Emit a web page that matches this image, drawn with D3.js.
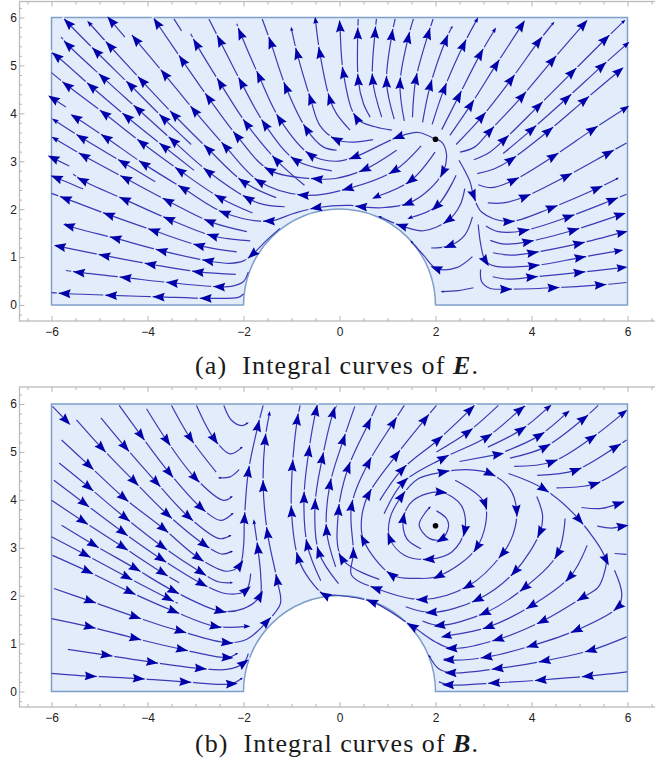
<!DOCTYPE html>
<html>
<head>
<meta charset="utf-8">
<script src="https://cdnjs.cloudflare.com/ajax/libs/d3/7.8.5/d3.min.js"></script>
<style>
html,body{margin:0;padding:0;background:#fff;overflow:hidden}
svg{display:block}
.axis text{font-family:"Liberation Sans",Arial,sans-serif;font-size:12px;fill:#222}
.axis line{stroke:#b4b4b4;stroke-width:1}
.axis .domain{display:none}
.cap{font-family:"Liberation Serif",serif;font-size:26px;fill:#1a1a1a;white-space:pre}
</style>
</head>
<body>
<svg id="c" width="655" height="764"></svg>
<script>
// Streamlines, in plot coordinates, listed from tail to head.
// A vertex carries an arrowhead, except: third value 0 = curve point only;
// the final vertex has one only if its third value is 1.
const eCurves = [
[[-1.93,1.53],[-2.70,1.74],[-3.57,2.17],[-4.45,2.64],[-5.32,3.11],[-5.93,3.47,1]],
[[-1.86,1.34],[-2.21,1.37,0],[-2.64,1.44],[-3.55,1.79],[-4.47,2.20],[-5.35,2.60],[-5.55,2.73]],
[[-2.14,1.11],[-2.92,1.24],[-3.86,1.55],[-4.80,1.88],[-5.70,2.22],[-6.0,2.33]],
[[-1.24,1.60],[-1.52,1.35,0],[-1.81,1.06],[-2.00,.92,0],[-2.28,.87,0],[-2.73,.92],[-3.70,1.13],[-4.66,1.39],[-5.63,1.65],[-5.72,1.70]],
[[-2.16,.64],[-2.94,.69],[-3.93,.85],[-4.89,1.03],[-5.82,1.22],[-5.91,1.24]],
[[-1.90,.69],[-2.00,.49,0],[-2.21,.40,0],[-2.50,.38],[-3.48,.46],[-4.45,.57],[-5.42,.68],[-5.70,.72]],
[[-2.0,.23],[-2.11,.16,0],[-2.78,.14],[-3.76,.17],[-4.75,.20],[-5.72,.24],[-6.0,.26]],
[[-5.34,2.42],[-5.89,2.65],[-6.0,2.69]],
[[-3.84,2.57],[-4.50,2.97],[-5.37,3.49],[-5.93,3.85,1]],
[[-5.63,2.90],[-5.96,3.06,1]],
[[-3.03,2.81],[-3.65,3.30],[-4.42,3.92],[-5.16,4.55],[-5.89,5.19],[-6.0,5.26]],
[[-3.09,3.35],[-3.66,3.89],[-4.35,4.58],[-5.06,5.28],[-5.65,5.88],[-5.73,5.97]],
[[-5.70,4.13],[-5.96,4.30,1]],
[[-1.14,2.05],[-1.59,2.10,0],[-1.90,2.22],[-2.73,2.78],[-3.46,3.42],[-4.19,4.08],[-4.92,4.74],[-5.65,5.42],[-5.80,5.59]],
[[-1.81,1.92],[-2.49,2.24],[-3.32,2.80],[-4.11,3.38],[-4.89,3.99],[-5.67,4.58],[-6.0,4.85]],
[[-1.32,2.24],[-2.00,2.57],[-2.73,3.25],[-3.44,3.96],[-4.11,4.67],[-4.78,5.40],[-5.21,5.88,1]],
[[1.70,3.32],[1.14,2.80],[.18,2.43],[-.75,2.29],[-1.66,2.57],[-2.37,3.30],[-3.02,4.05],[-3.64,4.81],[-4.24,5.53],[-4.33,5.64]],
[[-4.47,5.59],[-4.75,5.92,1]],
[[1.19,3.23],[.53,2.83],[-.09,2.64,0],[-.46,2.63],[-1.45,2.81],[-2.13,3.52],[-2.72,4.31],[-3.27,5.10],[-3.80,5.88],[-3.86,5.97]],
[[-.73,2.50],[-1.31,3.02],[-1.93,3.77],[-2.48,4.62],[-2.98,5.44],[-3.10,5.66]],
[[-3.29,5.72],[-3.45,5.97]],
[[-.16,2.80],[-.91,3.02],[-1.55,3.76],[-2.04,4.63],[-2.49,5.51],[-2.72,5.97]],
[[1.99,3.46],[1.64,3.60,0],[1.23,3.51],[.32,3.09],[-.09,3.0,0],[-.60,3.13],[-1.24,3.87],[-1.67,4.76],[-2.06,5.66],[-2.14,5.87]],
[[1.99,3.46],[2.13,3.40,0],[2.23,3.13,0],[2.16,2.78],[1.87,2.41,0],[1.43,2.12],[.88,2.03,0],[.46,2.05],[.22,2.08,0],[-.48,2.03],[-.96,1.91,0],[-1.46,1.75],[-2.39,1.92],[-3.25,2.43],[-4.07,2.94],[-4.86,3.49],[-5.49,3.91],[-5.58,3.96]],
[[.70,3.45],[.29,3.40,0],[-.06,3.45],[-.41,3.75,0],[-.60,4.29],[-.88,5.24],[-1.0,5.76,1]],
[[-.06,3.23],[-.34,3.30,0],[-.68,3.66],[-1.11,4.53],[-1.43,5.47],[-1.61,5.97]],
[[1.09,3.65],[.74,3.72,0],[.36,3.89],[.08,4.84],[.01,5.81],[.00,5.94]],
[[.22,3.65],[-.06,3.99,0],[-.20,4.29],[-.41,5.26],[-.50,5.94,1]],
[[.64,3.92],[.50,4.20,0],[.39,4.69],[.38,5.66],[.39,5.97]],
[[.88,3.92],[.69,4.70],[.74,5.68],[.77,5.97]],
[[1.14,3.88],[.98,4.65],[1.09,5.63],[1.16,5.97]],
[[1.35,3.84],[1.26,4.62],[1.43,5.57],[1.54,5.97]],
[[1.52,3.92],[1.59,4.71],[1.85,5.66],[1.95,5.97]],
[[1.73,3.81],[1.89,4.58],[2.21,5.52],[2.34,5.80,1]],
[[1.93,3.77],[2.18,4.51],[2.58,5.42],[2.86,5.95,1]],
[[2.13,3.66],[2.48,4.35],[2.93,5.23],[3.23,5.74,1]],
[[2.30,3.54],[2.73,4.17],[3.26,5.01],[3.79,5.83,1]],
[[2.43,3.35],[2.96,3.92],[3.57,4.70],[4.14,5.49],[4.45,5.88,1]],
[[2.51,3.19],[2.82,3.30,0],[3.13,3.63],[3.80,4.35],[4.43,5.10],[5.08,5.85,1]],
[[2.80,3.03],[3.13,3.19,0],[3.43,3.45],[4.14,4.15],[4.84,4.85],[5.53,5.54],[5.92,5.92,1]],
[[3.41,3.16],[4.0,3.66],[4.73,4.31],[5.46,4.98],[5.98,5.44,1]],
[[2.87,2.74],[3.24,2.85,0],[3.57,3.03],[4.35,3.63],[5.10,4.27],[5.82,4.88,1]],
[[2.89,2.51],[3.17,2.45,0],[3.62,2.60],[4.45,3.10],[5.27,3.66],[5.95,4.10,1]],
[[3.09,2.13],[3.41,2.13,0],[3.86,2.26],[4.73,2.69],[5.60,3.17],[5.98,3.38]],
[[3.05,1.65],[3.31,1.53,0],[3.83,1.55],[4.77,1.84],[5.68,2.19],[5.98,2.31]],
[[3.14,1.35],[3.45,1.27,0],[3.92,1.32],[4.87,1.56],[5.84,1.88,1]],
[[3.20,1.09],[3.59,1.04,0],[4.02,1.09],[4.98,1.28],[5.88,1.51,1]],
[[2.89,1.68],[2.94,1.28,0],[3.04,.92],[3.24,.81,0],[4.04,.82],[5.01,.99],[5.81,1.13,1]],
[[3.19,.59],[3.52,.54,0],[4.0,.58],[4.99,.68],[5.88,.78,1]],
[[2.94,.74],[2.96,.49,0],[3.13,.35,0],[3.46,.33],[4.45,.36],[5.43,.42],[5.98,.47]],
[[1.99,3.19],[1.49,2.60],[.77,2.26,1]],
[[2.43,2.71],[2.02,2.06],[1.47,1.82,1]],
[[2.61,2.43],[2.51,2.08,0],[2.27,1.77],[1.75,1.55,0],[1.30,1.65],[.84,1.84,1]],
[[2.49,3.02],[2.72,2.57,0],[2.79,2.29],[2.96,1.94,0],[3.52,1.74],[4.42,2.03],[5.36,2.43],[5.79,2.64,1]],
[[2.77,1.84],[2.61,1.46,0],[2.30,1.24],[1.91,1.19]],
[[2.77,1.01],[2.44,.78,0],[2.02,.76],[1.75,1.04,0],[1.50,1.32,1]],
[[2.79,.36],[2.47,.30,0],[2.14,.28,1]]
];
const bCurves = [
[[-5.98,5.95],[-5.70,5.66,1]],
[[-2.41,5.97],[-2.25,5.66,0],[-2.04,5.55,0],[-1.92,5.60,1]],
[[-2.98,5.97],[-2.61,5.27],[-2.28,4.96,0],[-2.04,5.09,1]],
[[-3.50,5.97],[-3.11,5.29],[-2.57,4.58]],
[[-2.09,4.63],[-2.28,4.48,0],[-2.50,4.46,1]],
[[-4.02,5.90],[-3.60,5.24],[-3.01,4.46],[-2.42,3.99,0],[-2.25,4.06,1]],
[[-4.59,5.97],[-4.14,5.35],[-3.55,4.57],[-2.89,3.84],[-2.48,3.57,0],[-2.23,3.71,1]],
[[-4.97,5.71],[-4.47,5.11],[-3.82,4.37],[-3.15,3.65],[-2.50,3.19,0],[-2.28,3.25,1]],
[[-5.48,5.67],[-4.96,5.09],[-4.28,4.39],[-3.59,3.70],[-2.82,3.07],[-2.46,2.87,0],[-2.25,2.92,1]],
[[-5.79,5.25],[-5.22,4.72],[-4.50,4.05],[-3.67,3.40],[-2.94,2.79],[-2.35,2.51,0],[-2.08,2.63],[-2.0,3.02,0],[-1.98,3.61],[-1.90,4.58],[-1.70,5.54],[-1.59,5.97]],
[[-5.84,4.77],[-5.23,4.27],[-4.47,3.63],[-3.70,3.03],[-2.89,2.49],[-2.53,2.29,0],[-2.25,2.27,1]],
[[-5.95,4.41],[-5.32,3.93],[-4.52,3.33],[-3.72,2.77],[-2.87,2.25],[-2.35,2.04,0],[-1.95,2.11],[-1.85,2.46]],
[[-6.0,3.99],[-5.35,3.56],[-4.52,3.02],[-3.69,2.48],[-3.34,2.27]],
[[-5.79,3.47],[-5.13,3.07],[-4.26,2.57],[-3.46,2.10],[-2.49,1.68],[-2.0,1.73,0],[-1.66,1.99],[-1.64,2.39,0],[-1.70,2.98],[-1.78,3.54,1]],
[[-6.0,3.23],[-5.30,2.86],[-4.43,2.39],[-3.57,1.94],[-3.37,1.84]],
[[-5.98,2.84],[-5.25,2.51],[-4.37,2.08],[-3.46,1.68],[-2.59,1.36],[-1.93,1.36,1]],
[[-5.95,2.15],[-5.20,1.89],[-4.26,1.56],[-3.32,1.26],[-2.35,1.02],[-1.93,1.09,0],[-1.52,1.45],[-1.23,1.84,0],[-1.30,2.32],[-1.50,3.30],[-1.59,4.28],[-1.55,5.25],[-1.46,5.80,1]],
[[-6.0,1.52],[-5.21,1.35],[-4.26,1.11],[-3.29,.88],[-2.34,.71],[-2.14,.79,1]],
[[-5.66,.88],[-4.86,.76],[-3.91,.61],[-2.90,.48],[-2.35,.46,0],[-2.0,.59],[-1.90,.79]],
[[-6.0,.38],[-5.19,.32],[-4.19,.27],[-3.22,.20],[-2.25,.16],[-2.04,.27,1]],
[[3.52,4.55],[4.25,4.23],[4.99,3.59],[5.55,2.75],[5.53,2.53,0],[5.39,2.18,0],[5.06,1.96],[4.23,1.47],[3.31,1.09],[2.34,.90],[1.99,1.04,0],[1.52,1.36],[.68,1.87],[-.09,2.01,0],[-.30,2.01],[-.61,2.32,0],[-.86,2.78],[-1.0,3.75],[-.98,4.71],[-.88,5.67],[-.82,5.97]],
[[5.73,2.53],[5.88,2.05,0],[5.81,1.77],[4.94,1.28],[4.02,.96],[3.07,.72],[2.28,.66],[2.18,.69]],
[[5.16,3.05],[4.80,2.39],[4.0,1.79],[3.11,1.35],[2.23,1.16,1]],
[[4.70,3.61],[4.55,2.88],[3.86,2.17],[3.03,1.64],[2.09,1.38],[1.73,1.47]],
[[4.11,4.07],[4.23,3.68,0],[4.18,3.33],[3.66,2.51],[2.88,1.92],[1.92,1.65],[1.38,1.77]],
[[5.99,.41],[5.18,.32],[4.20,.24],[3.23,.18],[2.27,.14],[2.07,.20]],
[[5.98,1.14],[5.24,.86],[4.28,.64],[3.30,.48],[2.32,.39],[2.06,.48,0],[1.87,.74,1]],
[[1.70,2.98],[1.40,3.19,0],[1.33,3.61],[1.54,3.99,0],[2.11,4.16],[2.54,3.88,0],[2.61,3.36],[2.34,2.91,0],[1.87,2.76],[1.36,2.84,0],[1.05,3.19],[1.05,3.61,0],[1.29,4.07],[1.64,4.44,0],[2.16,4.58],[2.65,4.63,0],[3.13,4.55],[3.55,4.23,0],[3.69,3.78],[3.62,3.29,0],[3.40,2.88],[2.68,2.20],[1.73,1.92],[.77,2.15],[.25,2.43,0],[.29,2.88],[.25,3.87],[.60,4.77],[1.12,5.61],[1.35,5.97]],
[[2.41,4.41],[3.03,3.92],[2.87,3.02],[2.07,2.41],[1.61,2.36,0],[1.09,2.43],[.50,3.16],[.46,3.61,0],[.60,4.11],[1.18,4.93],[1.78,5.68],[2.02,5.97]],
[[2.02,3.77],[2.23,3.61,0],[2.27,3.43,0],[2.13,3.18],[1.88,3.19,0],[1.66,3.47,0],[1.77,3.71,0],[1.88,3.84,1]],
[[.83,2.34],[.05,2.77],[-.02,3.78],[.18,4.67],[.60,5.59],[.77,5.97]],
[[-.39,2.31],[-.67,3.05],[-.74,4.04],[-.64,5.01],[-.49,5.86],[-.46,5.97]],
[[-.08,2.60],[-.27,3.36],[-.20,4.32],[.08,5.25],[.32,5.95]],
[[-.02,2.25],[-.43,2.90],[-.51,3.90],[-.36,4.86],[-.13,5.82],[-.06,5.97]],
[[.84,3.99],[1.30,4.63],[2.05,5.25],[2.72,5.88],[2.81,5.97]],
[[.93,3.71],[1.33,4.37],[2.16,4.87],[3.07,5.31],[3.76,5.88],[3.88,5.97]],
[[2.02,5.00],[2.67,5.41],[3.31,5.97]],
[[3.09,5.10],[3.78,5.46],[4.35,5.93,1]],
[[3.45,5.01],[4.16,5.34],[4.73,5.81,1]],
[[3.55,4.87],[4.28,5.10],[5.08,5.69],[5.39,5.97]],
[[3.64,4.70],[4.42,4.79],[5.25,5.29],[5.91,5.81,1]],
[[4.12,4.51],[4.92,4.62],[5.75,5.10],[5.98,5.25]],
[[4.52,4.25],[5.31,4.33],[5.98,4.70]],
[[5.04,3.84],[5.46,3.82,0],[5.81,3.92],[5.93,3.97]],
[[5.37,3.45],[5.67,3.41,0],[5.89,3.45],[5.98,3.46]],
[[5.73,2.88],[5.98,2.86]],
[[2.50,4.80],[3.30,4.95,1]]
];
const sourcePoint = [2, 3.46];
const cylinderRadius = 2;
const xMajor = [-6,-4,-2,0,2,4,6];
const xMinor = [-6.5,-5.5,-5,-4.5,-3.5,-3,-2.5,-1.5,-1,-.5,.5,1,1.5,2.5,3,3.5,4.5,5,5.5,6.5];
const yMajor = [0,1,2,3,4,5,6];
const yMinor = [-.2,.2,.4,.6,.8,1.2,1.4,1.6,1.8,2.2,2.4,2.6,2.8,3.2,3.4,3.6,3.8,4.2,4.4,4.6,4.8,5.2,5.4,5.6,5.8,6.2];
const captionA = ["(a)  Integral curves of ","E","."];
const captionB = ["(b)  Integral curves of ","B","."];

const svg = d3.select("#c");
const x = d3.scaleLinear().domain([-6,6]).range([51.5,627.5]);

function panel(curves, y0, y6, frameTop, frameBottom, caption, capY){
  const y = d3.scaleLinear().domain([0,6]).range([y0,y6]);
  const g = svg.append("g");

  // frame + axes
  g.append("rect").attr("x",19.5).attr("y",frameTop).attr("width",660)
    .attr("height",frameBottom-frameTop).attr("fill","none").attr("stroke","#bcbcbc").attr("stroke-width",1.3);
  const addX = (vals,size,label,yp,sign)=>{
    g.append("g").attr("class","axis").attr("transform",`translate(0,${yp})`)
      .call(d3.axisBottom(x).tickValues(vals).tickSize(sign*size).tickPadding(6.5)
        .tickFormat(label?undefined:""));
  };
  addX(xMajor,5,true,frameBottom,-1); addX(xMinor,3,false,frameBottom,-1);
  addX(xMajor,5,false,frameTop,1);    addX(xMinor,3,false,frameTop,1);
  g.append("g").attr("class","axis").attr("transform","translate(19.5,0)")
    .call(d3.axisLeft(y).tickValues(yMajor).tickSize(-5).tickPadding(2.5).tickFormat(d3.format("d")));
  g.append("g").attr("class","axis").attr("transform","translate(19.5,0)")
    .call(d3.axisLeft(y).tickValues(yMinor).tickSize(-2.5).tickFormat(""));

  // region
  const r = x(cylinderRadius)-x(0);
  const p = d3.path();
  p.moveTo(x(-6),y(0)); p.lineTo(x(-cylinderRadius),y(0));
  p.arc(x(0),y(0),r,Math.PI,2*Math.PI,false);
  p.lineTo(x(6),y(0)); p.lineTo(x(6),y(6)); p.lineTo(x(-6),y(6)); p.closePath();
  g.append("path").attr("d",p.toString()).attr("fill","#e2ecfa").attr("stroke","#7d9fc9").attr("stroke-width",1.5);

  // streamlines
  const line = d3.line().x(d=>x(d[0])).y(d=>y(d[1])).curve(d3.curveCatmullRom.alpha(.5));
  g.append("g").selectAll("path").data(curves).join("path")
    .attr("d",line).attr("fill","none").attr("stroke","#3a3ab6").attr("stroke-width",1.2);

  // arrowheads, with the small gap that follows each tip
  const marks = [];
  curves.forEach(c=>{
    c.forEach((pt,i)=>{
      if(i===0) return;
      const last = i===c.length-1;
      if(last ? pt[2]!==1 : pt[2]===0) return;
      const a = c[i-1], b = last ? pt : c[i+1];
      const ang = Math.atan2(y(b[1])-y(a[1]), x(b[0])-x(a[0]));
      let s = 1;
      if(last && c.length>2){
        const d = Math.hypot(x(pt[0])-x(a[0]), y(pt[1])-y(a[1]));
        s = Math.max(.25, Math.min(1, (d-14)/32));
      }
      marks.push({px:x(pt[0]),py:y(pt[1]),ang,s,last});
    });
  });
  g.append("g").selectAll("line").data(marks.filter(m=>!m.last)).join("line")
    .attr("x1",m=>m.px+6.4*Math.cos(m.ang)).attr("y1",m=>m.py+6.4*Math.sin(m.ang))
    .attr("x2",m=>m.px+8.2*Math.cos(m.ang)).attr("y2",m=>m.py+8.2*Math.sin(m.ang))
    .attr("stroke","#e2ecfa").attr("stroke-width",2.4);
  g.append("g").selectAll("path").data(marks).join("path")
    .attr("d","M6.4,0L-5.6,-4.4L-4,0L-5.6,4.4Z")
    .attr("transform",m=>`translate(${m.px},${m.py}) rotate(${m.ang*180/Math.PI}) scale(${m.s})`)
    .attr("fill","#0000aa");

  // source point
  g.append("circle").attr("cx",x(sourcePoint[0])).attr("cy",y(sourcePoint[1])).attr("r",2.8).attr("fill","#000");

  // caption
  const t = g.append("text").attr("class","cap").attr("x",195).attr("y",capY)
    .attr("textLength",283).attr("lengthAdjust","spacing").attr("xml:space","preserve");
  t.append("tspan").text(caption[0]);
  t.append("tspan").attr("font-weight","bold").attr("font-style","italic").text(caption[1]);
  t.append("tspan").text(caption[2]);
}
panel(eCurves,305,17.5,1.5,321,captionA,374);
panel(bCurves,691.5,404,387,707,captionB,752);
</script>
</body>
</html>
